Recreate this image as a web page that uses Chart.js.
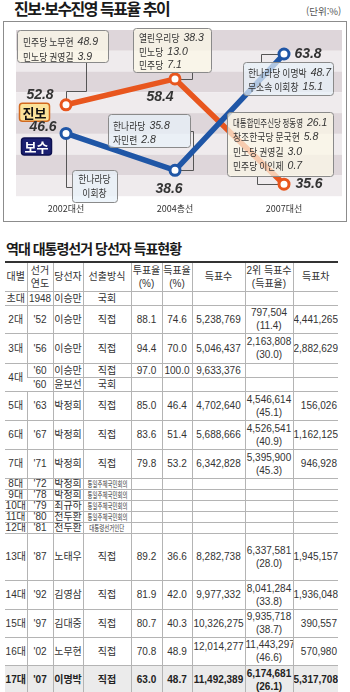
<!DOCTYPE html>
<html lang="ko">
<head>
<meta charset="utf-8">
<title>진보·보수진영 득표율 추이</title>
<script src="https://cdn.jsdelivr.net/npm/chart.js@4.4.1/dist/chart.umd.min.js"></script>
<style>
  html, body { margin: 0; padding: 0; background: #fff; }
  body { position: relative; width: 350px; height: 692px; overflow: hidden;
         font-family: "Liberation Sans", "Noto Sans CJK KR", sans-serif; color: #333; }
  .title { position: absolute; left: 14px; top: -1px; font: bold 16px/18px "Noto Sans CJK KR", sans-serif;
           letter-spacing: -1.5px; color: #1a1a1a; white-space: nowrap; }
  .unit { position: absolute; left: 306px; top: 5px; font: 9.5px/12px "Noto Sans CJK KR", sans-serif; color: #555; }
  .frame { position: absolute; left: 3px; top: 21px; width: 342px; height: 199px; border: 1px solid #8c8c8c; }
  #trend { position: absolute; left: 4px; top: 22px; }
  .subtitle { position: absolute; left: 6px; top: 239px; font: bold 14px/18px "Noto Sans CJK KR", sans-serif;
              letter-spacing: -1px; color: #1a1a1a; white-space: nowrap; }
  table { position: absolute; left: 5px; top: 261px; width: 333px; border-collapse: collapse; table-layout: fixed; font-size: 10px; }
  th, td { padding: 0; text-align: center; vertical-align: middle; border-left: 1px solid #b4b4b4;
           border-bottom: 1px solid #b4b4b4; line-height: 13px; white-space: nowrap; overflow: hidden;
           font-weight: normal; color: #333; }
  th:first-child, td:first-child { border-left: none; }
  thead tr { border-top: 2px solid #333; }
  tr.tiny td { line-height: 9px; }
  tr.last td { background: #ebebeb; font-weight: bold; color: #222; }
  tr.last { border-bottom: 2px solid #333; }
  td.r { text-align: right; padding-right: 1px; }
  td.top { vertical-align: top; padding-top: 2px; }
  .sq { display: inline-block; font-size: 8px; transform: scaleX(0.68); margin: 0 -14px; }
</style>
</head>
<body>
<div class="title">진보·보수진영 득표율 추이</div>
<div class="unit">(단위:%)</div>
<div class="frame"></div>
<canvas id="trend" width="342" height="199"></canvas>
<div class="subtitle">역대 대통령선거 당선자 득표현황</div>
<table id="history"></table>

<script>
// ---- 그래프 데이터 ----
const years = ['2002대선', '2004총선', '2007대선'];
const progressive = [52.8, 58.4, 35.6];   // 진보
const conservative = [46.6, 38.6, 63.8];  // 보수

// 설명 상자 [이름, 득표율]
const note02Pro = [['민주당 노무현', '48.9'], ['민노당 권영길', '3.9']];
const note04Pro = [['열린우리당', '38.3'], ['민노당', '13.0'], ['민주당', '7.1']];
const note04Con = [['한나라당', '35.8'], ['자민련', '2.8']];
const note02Con = [['한나라당', ''], ['이회창', '']];
const note07Con = [['한나라당 이명박', '48.7'], ['무소속 이회창', '15.1']];
const note07Pro = [['대통합민주신당 정동영', '26.1'], ['창조한국당 문국현', '5.8'], ['민노당 권영길', '3.0'], ['민주당 이인제', '0.7']];

// ---- 표 데이터 ----
const tableHead = ['대별', '선거<br>연도', '당선자', '선출방식', '투표율<br>(%)', '득표율<br>(%)', '득표수', '2위 득표수<br>(득표율)', '득표차'];
const colWidths = [22, 26, 30, 48, 31, 30, 53, 48, 45];
const terms = ['초대', '2대', '3대', '4대', '4대', '5대', '6대', '7대', '8대', '9대', '10대', '11대', '12대', '13대', '14대', '15대', '16대', '17대'];
const electYears = ['1948', "'52", "'56", "'60", "'60", "'63", "'67", "'71", "'72", "'78", "'79", "'80", "'81", "'87", "'92", "'97", "'02", "'07"];
const winners = ['이승만', '이승만', '이승만', '이승만', '윤보선', '박정희', '박정희', '박정희', '박정희', '박정희', '최규하', '전두환', '전두환', '노태우', '김영삼', '김대중', '노무현', '이명박'];
const methods = ['국회', '직접', '직접', '직접', '국회', '직접', '직접', '직접', '통일주체국민회의', '통일주체국민회의', '통일주체국민회의', '통일주체국민회의', '대통령선거인단', '직접', '직접', '직접', '직접', '직접'];
const turnout = ['', '88.1', '94.4', '97.0', '', '85.0', '83.6', '79.8', '', '', '', '', '', '89.2', '81.9', '80.7', '70.8', '63.0'];
const voteShare = ['', '74.6', '70.0', '100.0', '', '46.4', '51.4', '53.2', '', '', '', '', '', '36.6', '42.0', '40.3', '48.9', '48.7'];
const votes = ['', '5,238,769', '5,046,437', '9,633,376', '', '4,702,640', '5,688,666', '6,342,828', '', '', '', '', '', '8,282,738', '9,977,332', '10,326,275', '12,014,277', '11,492,389'];
const runnerUp = ['', '797,504', '2,163,808', '', '', '4,546,614', '4,526,541', '5,395,900', '', '', '', '', '', '6,337,581', '8,041,284', '9,935,718', '11,443,297', '6,174,681'];
const runnerUpShare = ['', '11.4', '30.0', '', '', '45.1', '40.9', '45.3', '', '', '', '', '', '28.0', '33.8', '38.7', '46.6', '26.1'];
const margins = ['', '4,441,265', '2,882,629', '', '', '156,026', '1,162,125', '946,928', '', '', '', '', '', '1,945,157', '1,936,048', '390,557', '570,980', '5,317,708'];
const rowHeights = [14, 28, 30, 12, 13, 29, 29, 29, 10, 9, 10, 9, 10, 47, 29, 28, 28, 30];

const ORANGE = '#e8561e';
const BLUE = '#1f56a6';
const KFONT = '10px "Noto Sans CJK KR"';
const NFONT = 'italic 10.5px "Liberation Sans"';

function poly(ctx, pts) {
    ctx.beginPath();
    pts.forEach(([x, y], i) => {
        const px = Math.round(x) + 0.5, py = Math.round(y) + 0.5;
        if (i === 0) ctx.moveTo(px, py); else ctx.lineTo(px, py);
    });
    ctx.stroke();
}

function noteLine(ctx, x, y, label, num, maxLabel, center) {
    ctx.font = KFONT;
    const w = ctx.measureText(label).width;
    const sx = Math.min(0.88, maxLabel / w);
    const start = center ? x - w * sx / 2 : x;
    ctx.save();
    ctx.translate(start, y);
    ctx.scale(sx, 1);
    ctx.fillText(label, 0, 0);
    ctx.restore();
    if (num) {
        ctx.font = NFONT;
        ctx.fillText(num, start + w * sx + 4, y);
    }
}

function noteBox(ctx, b, lines) {
    ctx.beginPath();
    ctx.roundRect(b.x + 0.5, b.y + 0.5, b.w, b.h, 3);
    ctx.fillStyle = b.fill;
    ctx.fill();
    ctx.strokeStyle = '#8a8a8a';
    ctx.lineWidth = 1;
    ctx.stroke();
    ctx.fillStyle = '#333';
    ctx.textAlign = 'left';
    ctx.textBaseline = 'middle';
    lines.forEach((ln, i) => {
        const tx = b.center ? b.x + b.w / 2 : b.tx;
        noteLine(ctx, tx, b.ty + i * b.lh, ln[0], ln[1], b.max || 999, b.center);
    });
}

function badge(ctx, x, y, w, h, fill, stroke, color, text) {
    ctx.beginPath();
    ctx.roundRect(x + 0.5, y + 0.5, w, h, 3);
    ctx.fillStyle = fill;
    ctx.fill();
    ctx.strokeStyle = stroke;
    ctx.lineWidth = 1.5;
    ctx.stroke();
    ctx.fillStyle = color;
    ctx.font = 'bold 13px "Noto Sans CJK KR"';
    ctx.textAlign = 'center';
    ctx.textBaseline = 'middle';
    ctx.fillText(text, x + w / 2 + 0.5, y + h / 2 + 1);
}

const CREAM = 'rgba(252, 248, 232, 0.72)';
const PALE = 'rgba(232, 241, 250, 0.72)';

const notesPlugin = {
    id: 'notes',
    beforeDraw(chart) {
        const { ctx, chartArea: a } = chart;
        const h = (a.bottom - a.top) / 8;
        for (let i = 0; i < 8; i++) {
            ctx.fillStyle = i % 2 ? '#efebed' : '#ded6da';
            ctx.fillRect(12, a.top + i * h, 326, h);
        }
    },
    beforeDatasetsDraw(chart) {
        const ctx = chart.ctx;
        const con = chart.getDatasetMeta(0).data;
        const pro = chart.getDatasetMeta(1).data;
        ctx.save();
        ctx.strokeStyle = '#555';
        ctx.lineWidth = 1;
        poly(ctx, [[82, 40], [82, 69], [pro[0].x, 69], [pro[0].x, pro[0].y]]);
        poly(ctx, [[188, 50], [188, pro[1].y], [pro[1].x, pro[1].y]]);
        poly(ctx, [[186, 109], [189, 109], [189, con[1].y], [con[1].x, con[1].y]]);
        poly(ctx, [[con[0].x, con[0].y], [con[0].x, 165], [68, 165]]);
        poly(ctx, [[257, 40], [257, con[2].y], [con[2].x, con[2].y]]);
        poly(ctx, [[253, 154], [253, pro[2].y], [pro[2].x, pro[2].y]]);
        ctx.restore();
    },
    afterDatasetsDraw(chart) {
        const ctx = chart.ctx;
        const con = chart.getDatasetMeta(0).data;
        const pro = chart.getDatasetMeta(1).data;
        ctx.save();
        noteBox(ctx, { x: 13, y: 8, w: 91, h: 32, fill: CREAM, tx: 19, ty: 20, lh: 15 }, note02Pro);
        noteBox(ctx, { x: 129, y: 6, w: 78, h: 44, fill: CREAM, tx: 135, ty: 16.5, lh: 13.5 }, note04Pro);
        noteBox(ctx, { x: 104, y: 92, w: 82, h: 33, fill: PALE, tx: 109, ty: 104, lh: 14 }, note04Con);
        noteBox(ctx, { x: 68, y: 148, w: 45, h: 32, fill: PALE, center: true, ty: 157, lh: 14 }, note02Con);
        noteBox(ctx, { x: 239, y: 40, w: 90, h: 33, fill: PALE, tx: 244, ty: 51, lh: 14 }, note07Con);
        noteBox(ctx, { x: 223, y: 90, w: 106, h: 64, fill: CREAM, tx: 229, ty: 101, lh: 14.5, max: 70 }, note07Pro);

        // 진보 / 보수 표시
        badge(ctx, pro[0].x - 47, pro[0].y - 2, 30, 18, '#fbe39a', '#d2691e', '#111', '진보');
        badge(ctx, con[0].x - 45, con[0].y + 4, 30, 17, '#1b2070', '#0e1150', '#fff', '보수');

        // 수치
        ctx.fillStyle = '#333';
        ctx.font = 'italic bold 14px "Liberation Sans"';
        ctx.textAlign = 'center';
        ctx.textBaseline = 'middle';
        ctx.fillText(progressive[0].toFixed(1), pro[0].x - 26, pro[0].y - 10);
        ctx.fillText(progressive[1].toFixed(1), pro[1].x - 15, pro[1].y + 18);
        ctx.fillText(progressive[2].toFixed(1), pro[2].x + 25, pro[2].y);
        ctx.fillText(conservative[0].toFixed(1), con[0].x - 23, con[0].y - 6);
        ctx.fillText(conservative[1].toFixed(1), con[1].x - 6, con[1].y + 19);
        ctx.fillText(conservative[2].toFixed(1), con[2].x + 24, con[2].y);
        ctx.restore();
    }
};

const lineStyle = color => ({
    borderColor: color,
    borderWidth: 5.5,
    pointRadius: 5,
    pointBorderWidth: 3,
    pointBackgroundColor: '#fff',
    pointBorderColor: color,
    tension: 0
});

new Chart(document.getElementById('trend').getContext('2d'), {
    type: 'line',
    data: {
        labels: years,
        datasets: [
            { label: '보수', data: conservative, order: 1, ...lineStyle(BLUE) },
            { label: '진보', data: progressive, order: 2, ...lineStyle(ORANGE) }
        ]
    },
    options: {
        responsive: false,
        animation: false,
        events: [],
        layout: { padding: { left: 7.5, right: 7.5, top: 8, bottom: 0 }, autoPadding: false },
        plugins: { legend: { display: false }, tooltip: { enabled: false } },
        scales: {
            x: {
                offset: true,
                grid: { display: false, drawTicks: false },
                border: { display: false },
                ticks: { color: '#333', font: { size: 9, family: '"Noto Sans CJK KR"' }, padding: 7 }
            },
            y: { display: false, min: 33, max: 69 }
        }
    },
    plugins: [notesPlugin]
});

// ---- 표 만들기 ----
const table = document.getElementById('history');
let html = '<colgroup>' + colWidths.map(w => `<col style="width:${w}px">`).join('') + '</colgroup>';
html += '<thead><tr style="height:29px">' + tableHead.map(h => `<th>${h}</th>`).join('') + '</tr></thead><tbody>';
terms.forEach((t, i) => {
    const cls = rowHeights[i] <= 10 ? 'tiny' : (i === terms.length - 1 ? 'last' : '');
    html += `<tr class="${cls}" style="height:${rowHeights[i]}px">`;
    if (t !== terms[i - 1]) {
        const span = t === terms[i + 1] ? ' rowspan="2"' : '';
        html += `<td${span}>${t}</td>`;
    }
    const m = methods[i].length > 4 ? `<span class="sq">${methods[i]}</span>` : methods[i];
    const second = runnerUp[i] ? `${runnerUp[i]}<br>(${runnerUpShare[i]})` : '';
    const voteCls = votes[i] && runnerUp[i] && votes[i].length > 9 && runnerUp[i].length > 9 ? ' class="top"' : '';
    html += `<td>${electYears[i]}</td><td>${winners[i]}</td><td>${m}</td><td>${turnout[i]}</td>` +
            `<td>${voteShare[i]}</td><td${voteCls}>${votes[i]}</td><td>${second}</td><td class="r">${margins[i]}</td></tr>`;
});
html += '</tbody>';
table.innerHTML = html;
</script>
</body>
</html>
